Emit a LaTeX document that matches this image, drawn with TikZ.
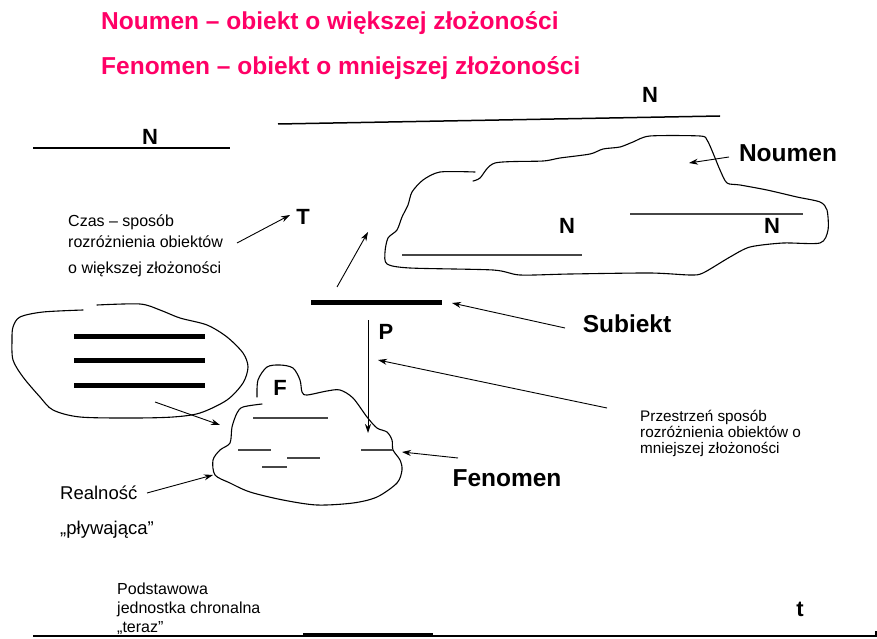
\documentclass[tikz,border=0pt]{standalone}
\usepackage{fontspec}
\setmainfont{Liberation Sans}
\usetikzlibrary{arrows.meta}
\definecolor{titlepink}{RGB}{255,0,102}
\definecolor{innergray}{RGB}{70,70,70}
\tikzset{
  titletext/.style={font=\fontsize{24.5}{28}\selectfont\bfseries, text=titlepink, inner sep=0pt, anchor=base west},
  biglabel/.style={font=\fontsize{24.5}{28}\selectfont\bfseries, inner sep=0pt},
  letter/.style={font=\fontsize{22}{26}\selectfont\bfseries, inner sep=0pt},
  note/.style={font=\fontsize{16}{19}\selectfont, inner sep=0pt, anchor=base west},
  notesmall/.style={font=\fontsize{15.3}{18}\selectfont, inner sep=0pt, anchor=base west},
  notebig/.style={font=\fontsize{18.5}{22}\selectfont, inner sep=0pt, anchor=base west},
  arr/.style={-{Stealth[length=9pt,width=6pt]}, line width=0.9pt},
  cloudline/.style={line width=1.1pt, line join=round, line cap=round},
  nline/.style={line width=1.5pt},
  innerline/.style={line width=1.4pt, draw=innergray},
  thickbar/.style={line width=5pt},
}
\begin{document}
\begin{tikzpicture}[x=1pt, y=-1pt]
\fill[white] (0,0) rectangle (877,639);
\useasboundingbox (0,0) rectangle (877,639);

% titles
\node[titletext] (title1) at (101,30) {Noumen – obiekt o większej złożoności};
\node[titletext] (title2) at (101,75) {Fenomen – obiekt o mniejszej złożoności};

% N lines
\coordinate (ntopA) at (278,124);
\coordinate (ntopB) at (720,116);
\draw[nline] (ntopA) -- (ntopB);
\node[letter] (ntop) at (650,95) {N};
\coordinate (nleftA) at (33,148);
\coordinate (nleftB) at (230,148);
\draw[nline] (nleftA) -- (nleftB);
\node[letter] (nleft) at (150,137) {N};

% Noumen cloud
\draw[cloudline] plot[smooth, tension=0.45] coordinates {
(475,172) (440,172) (423,180) (412,192) (408,205) (402,217) (397,230) (388,238)
(385,252) (387,264) (410,268) (493,270) (520,275) (570,274) (650,273) (690,275)
(703,273) (730,257) (750,247) (783,243) (820,243) (828,230) (827,210) (820,202)
(797,197) (767,190) (740,185) (727,183) (720,170) (713,153) (707,140) (700,136)
(650,136) (633,142) (620,147) (603,149) (590,154) (560,158) (543,161) (495,163)
(480,178) (473,181)};
\coordinate (cn1A) at (402,255);
\coordinate (cn1B) at (582,255);
\draw[innerline] (cn1A) -- (cn1B);
\coordinate (cn2A) at (630,214);
\coordinate (cn2B) at (803,214);
\draw[innerline] (cn2A) -- (cn2B);
\node[letter] (ncloud1) at (567,226) {N};
\node[letter] (ncloud2) at (772,226) {N};

\node[biglabel] (noumen) at (788,153) {Noumen};
\coordinate (noumenTail) at (729,157);
\coordinate (noumenHead) at (689,163);
\draw[arr] (noumenTail) -- (noumenHead);

% Czas text and T
\node[note] (czas1) at (68,226) {Czas – sposób};
\node[note] (czas2) at (68,247) {rozróżnienia obiektów};
\node[note] (czas3) at (68,273) {o większej złożoności};
\node[letter] (T) at (303,217) {T};
\coordinate (tTail) at (237,243);
\coordinate (tHead) at (290,215);
\draw[arr] (tTail) -- (tHead);

\coordinate (upTail) at (337,287);
\coordinate (upHead) at (368,232);
\draw[arr] (upTail) -- (upHead);

% Subiekt
\coordinate (barA) at (311,302);
\coordinate (barB) at (442,302);
\draw[thickbar] (barA) -- (barB);
\node[biglabel] (subiekt) at (627,324) {Subiekt};
\coordinate (subTail) at (565,328);
\coordinate (subHead) at (452,303);
\draw[arr] (subTail) -- (subHead);

% P
\node[letter] (P) at (386,332) {P};
\coordinate (pTail) at (368,320);
\coordinate (pHead) at (368,433);
\draw[arr] (pTail) -- (pHead);

% Przestrzen
\node[notesmall] (prz1) at (640,421) {Przestrzeń sposób};
\node[notesmall] (prz2) at (640,437) {rozróżnienia obiektów o};
\node[notesmall] (prz3) at (640,453) {mniejszej złożoności};
\coordinate (przTail) at (607,408);
\coordinate (przHead) at (378,360);
\draw[arr] (przTail) -- (przHead);

% left cloud
\draw[cloudline] plot[smooth, tension=0.5] coordinates {
(83,310) (43,312) (20,317) (13,327) (12,340) (13,360) (23,377) (40,397) (53,410)
(80,417) (133,418) (173,417) (200,413) (227,400) (243,383) (248,367) (243,353)
(227,337) (207,325) (180,318) (160,310) (140,304) (97,305)};
\coordinate (l1A) at (74,336); \coordinate (l1B) at (205,336);
\coordinate (l2A) at (74,360); \coordinate (l2B) at (205,360);
\coordinate (l3A) at (74,385); \coordinate (l3B) at (205,385);
\draw[thickbar] (l1A) -- (l1B);
\draw[thickbar] (l2A) -- (l2B);
\draw[thickbar] (l3A) -- (l3B);
\coordinate (lcTail) at (155,402);
\coordinate (lcHead) at (220,425);
\draw[arr] (lcTail) -- (lcHead);

% Fenomen cloud
\draw[cloudline] plot[smooth, tension=0.5] coordinates {
(257,397) (258,380) (267,367) (280,365) (293,368) (300,380) (302,392) (307,395)
(327,391) (340,390) (353,398) (367,417) (377,428) (387,432) (392,440) (393,450)
(400,460) (402,470) (397,483) (377,497) (353,503) (317,505) (283,500) (250,492)
(230,483) (215,475) (213,460) (220,450) (230,443) (232,427) (237,413) (243,407)
(262,404)};
\node[letter] (F) at (280,388) {F};
\coordinate (f1A) at (253,418); \coordinate (f1B) at (328,418);
\coordinate (f2A) at (238,450); \coordinate (f2B) at (271,450);
\coordinate (f3A) at (287,458); \coordinate (f3B) at (320,458);
\coordinate (f4A) at (262,467); \coordinate (f4B) at (287,467);
\coordinate (f5A) at (361,450); \coordinate (f5B) at (393,450);
\draw[innerline] (f1A) -- (f1B);
\draw[innerline] (f2A) -- (f2B);
\draw[innerline] (f3A) -- (f3B);
\draw[innerline] (f4A) -- (f4B);
\draw[innerline] (f5A) -- (f5B);

\node[biglabel] (fenomen) at (507,478) {Fenomen};
\coordinate (fenTail) at (458,458);
\coordinate (fenHead) at (402,452);
\draw[arr] (fenTail) -- (fenHead);

% Realnosc
\node[notebig] (real1) at (60,499) {Realność};
\node[notebig] (real2) at (60,534) {„pływająca”};
\coordinate (realTail) at (147,493);
\coordinate (realHead) at (213,475);
\draw[arr] (realTail) -- (realHead);

% bottom axis
\node[note] (pod1) at (117,594) {Podstawowa};
\node[note] (pod2) at (117,613) {jednostka chronalna};
\node[note] (pod3) at (117,632) {„teraz”};
\coordinate (axA) at (33,636);
\coordinate (axB) at (876,636);
\coordinate (axTick) at (876,631);
\draw[line width=1.5pt] (axA) -- (axB) -- (axTick);
\coordinate (nowA) at (303,635);
\coordinate (nowB) at (433,635);
\draw[line width=4pt] (nowA) -- (nowB);
\node[letter] (tlabel) at (800,609) {t};
\end{tikzpicture}
\end{document}
